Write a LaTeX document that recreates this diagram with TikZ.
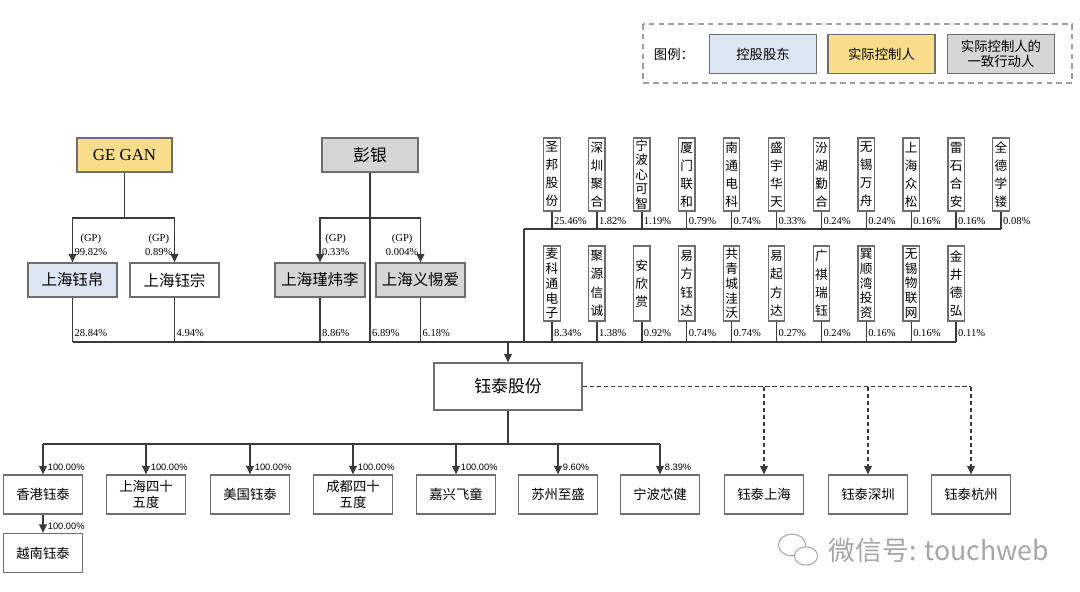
\documentclass[tikz,border=0pt]{standalone}
\usepackage{fontspec}
\setmainfont{Liberation Serif}
\newfontfamily\cjk{Noto Sans CJK SC}
\newfontfamily\arialfont{Liberation Sans}
\usetikzlibrary{arrows.meta,positioning,calc}

\definecolor{ctrlblue}{HTML}{DCE6F2}
\definecolor{ctrlyellow}{HTML}{FADD8A}
\definecolor{actgray}{HTML}{D6D6D6}
\definecolor{boxline}{HTML}{6E6E6E}
\definecolor{wirecol}{HTML}{3A3A3A}

\tikzset{
  box/.style={draw=boxline, line width=0.9pt, fill=white, inner sep=1pt, align=center,
    font=\cjk\fontsize{11pt}{13pt}\selectfont},
  midbox/.style={box, minimum width=2.225cm, minimum height=0.85cm},
  kid/.style={box, minimum width=1.975cm, minimum height=0.975cm,
    font=\cjk\fontsize{9.5pt}{11pt}\selectfont},
  legbox/.style={box, minimum width=2.675cm, minimum height=0.975cm,
    font=\cjk\fontsize{9.5pt}{11pt}\selectfont},
  vbox/.style={box, inner sep=0pt, minimum width=0.41cm},
  wire/.style={draw=wirecol, line width=1pt},
  arr/.style={wire, -{Triangle[length=6pt,width=5.5pt]}},
  darr/.style={arr, dash pattern=on 3pt off 2pt},
  pct/.style={font=\fontsize{7.5pt}{10pt}\selectfont, inner sep=1pt, align=center},
  spct/.style={font=\arialfont\fontsize{6.6pt}{8pt}\selectfont, inner sep=1pt, xshift=2pt, yshift=1pt},
}

\begin{document}
\begin{tikzpicture}[x=0.025cm, y=-0.025cm]
\useasboundingbox (0,0) rectangle (1080,592);

% legend
\draw[draw=gray!75, line width=0.9pt, dash pattern=on 4pt off 3pt] (643,24) rectangle (1072,83);
\node[font=\cjk\fontsize{9.5pt}{11pt}\selectfont] (legtitle) at (674,54) {图例：};
\node[legbox, fill=ctrlblue] (legholder) at (763,54) {控股股东};
\node[legbox, fill=ctrlyellow] (legctrl) at (881.5,54) {实际控制人};
\node[legbox, fill=actgray] (legconcert) at (1001,54) {实际控制人的\\一致行动人};

% top holders
\node[box, fill=ctrlyellow, minimum width=2.375cm, minimum height=0.85cm,
  font=\fontsize{12pt}{14pt}\selectfont] (gegan) at (124.5,155) {GE GAN};
\node[box, fill=actgray, minimum width=2.4cm, minimum height=0.85cm,
  font=\cjk\fontsize{12pt}{14pt}\selectfont] (pengyin) at (370,155) {彭银};

% partnerships
\node[midbox, fill=ctrlblue] (yubo) at (72.5,280) {上海钰帛};
\node[midbox] (yuzong) at (174.5,280) {上海钰宗};
\node[midbox, fill=actgray, minimum width=2.25cm] (jinwei) at (320,280) {上海瑾炜李};
\node[midbox, fill=actgray] (yiti) at (420.5,280) {上海义惕爱};

\coordinate (ganjoint) at (124.5,218);
\coordinate (pengjoint) at (370,218);
\coordinate (bus) at (508,342);
\coordinate (rjoint) at (524,229);

\draw[wire] (gegan.south) -- (ganjoint);
\draw[arr] (ganjoint) -| (yubo.north) node[pct, pos=1, anchor=south west, yshift=3.5pt] {(GP)\\99.82\%};
\draw[arr] (ganjoint) -| (yuzong.north) node[pct, pos=1, anchor=south east, yshift=3.5pt] {(GP)\\0.89\%};
\draw[arr] (pengjoint) -| (jinwei.north) node[pct, pos=1, anchor=south west, yshift=3.5pt] {(GP)\\0.33\%};
\draw[arr] (pengjoint) -| (yiti.north) node[pct, pos=1, anchor=south east, yshift=3.5pt] {(GP)\\0.004\%};

% down to the main line
\draw[wire] (yubo.south) -- (yubo.south |- bus) node[pct, pos=1, anchor=south west, yshift=2pt] {28.84\%};
\draw[wire] (yuzong.south) -- (yuzong.south |- bus) node[pct, pos=1, anchor=south west, yshift=2pt] {4.94\%};
\draw[wire] (jinwei.south) -- (jinwei.south |- bus) node[pct, pos=1, anchor=south west, yshift=2pt] {8.86\%};
\draw[wire] (pengyin.south) -- (pengyin.south |- bus) node[pct, pos=1, anchor=south west, yshift=2pt] {6.89\%};
\draw[wire] (yiti.south) -- (yiti.south |- bus) node[pct, pos=1, anchor=south west, yshift=2pt] {6.18\%};

% other shareholders, first row
\foreach \lbl/\pc/\sk [count=\i] in {
  {圣\\邦\\股\\份}/25.46/12.8, {深\\圳\\聚\\合}/1.82/12.8, {宁\\波\\心\\可\\智}/1.19/10.2,
  {厦\\门\\联\\和}/0.79/12.8, {南\\通\\电\\科}/0.74/12.8, {盛\\宇\\华\\天}/0.33/12.8,
  {汾\\湖\\勤\\合}/0.24/12.8, {无\\锡\\万\\舟}/0.24/12.8, {上\\海\\众\\松}/0.16/12.8,
  {雷\\石\\合\\安}/0.16/12.8, {全\\德\\学\\镂}/0.08/12.8}
{
  \node[vbox, minimum height=1.825cm, font=\cjk\fontsize{9pt}{\sk pt}\selectfont]
    (t\i) at ({507.1+44.9*\i},174.5) {\lbl};
  \draw[wire] (t\i.south) -- (t\i.south |- rjoint) node[pct, pos=1, anchor=south west, yshift=1.8pt] {\pc\%};
}

% other shareholders, second row
\foreach \lbl/\pc/\sk [count=\i] in {
  {麦\\科\\通\\电\\子}/8.34/10.5, {聚\\源\\信\\诚}/1.38/13, {安\\欣\\赏}/0.92/13,
  {易\\方\\钰\\达}/0.74/13, {共\\青\\城\\洼\\沃}/0.74/10.5, {易\\起\\方\\达}/0.27/13,
  {广\\祺\\瑞\\钰}/0.24/13, {巽\\顺\\湾\\投\\资}/0.16/10.5, {无\\锡\\物\\联\\网}/0.16/10.5,
  {金\\井\\德\\弘}/0.11/13}
{
  \node[vbox, minimum height=1.875cm, font=\cjk\fontsize{9pt}{\sk pt}\selectfont]
    (b\i) at ({507.1+44.9*\i},283.5) {\lbl};
  \draw[wire] (b\i.south) -- (b\i.south |- bus) node[pct, pos=1, anchor=south west, yshift=2pt] {\pc\%};
}

\draw[wire] (rjoint) -- (t11.south |- rjoint);
\draw[wire] (rjoint) -- (rjoint |- bus);
\draw[wire] (yubo.south |- bus) -- (b10.south |- bus);

% the company
\node[box, minimum width=3.7cm, minimum height=1.175cm,
  font=\cjk\fontsize{12pt}{14pt}\selectfont] (yutai) at (508,386.5) {钰泰股份};
\draw[arr] (bus) -- (yutai.north);

% subsidiaries
\coordinate (kidbus) at (508,444);
\draw[wire] (yutai.south) -- (kidbus);
\foreach \nm/\x/\txt/\pc in {hk/43/香港钰泰/100.00, shsw/146/{上海四十\\五度}/100.00,
  us/250/美国钰泰/100.00, cdsw/353/{成都四十\\五度}/100.00, jx/456/嘉兴飞童/100.00,
  sz/558/苏州至盛/9.60, nb/660/宁波芯健/8.39}
{
  \node[kid] (\nm) at (\x,494.5) {\txt};
  \draw[arr] (\nm.north |- kidbus) -- (\nm.north) node[spct, pos=1, anchor=south west] {\pc\%};
}
\draw[wire] (hk.north |- kidbus) -- (nb.north |- kidbus);

\node[kid] (vn) at (43,553) {越南钰泰};
\draw[arr] (hk) -- (vn) node[spct, pos=1, anchor=south west] {100.00\%};

% branches (dashed)
\node[kid] (ytsh) at (764,494.5) {钰泰上海};
\node[kid] (ytsz) at (868,494.5) {钰泰深圳};
\node[kid] (ythz) at (971,494.5) {钰泰杭州};
\draw[wire, dash pattern=on 3pt off 2pt] (yutai.east) -- (yutai.east -| ythz.north);
\draw[darr] (yutai.east -| ytsh.north) -- (ytsh.north);
\draw[darr] (yutai.east -| ytsz.north) -- (ytsz.north);
\draw[darr] (yutai.east -| ythz.north) -- (ythz.north);

% watermark
\draw[gray!65, line width=0.8pt] (792,545) ellipse (0.34cm and 0.27cm);
\draw[gray!65, line width=0.8pt, fill=white] (806,556) ellipse (0.29cm and 0.23cm);
\node[font=\cjk\fontsize{19pt}{22pt}\selectfont, text=gray!70, anchor=west] (wmark) at (824,550) {微信号: touchweb};
\end{tikzpicture}
\end{document}
